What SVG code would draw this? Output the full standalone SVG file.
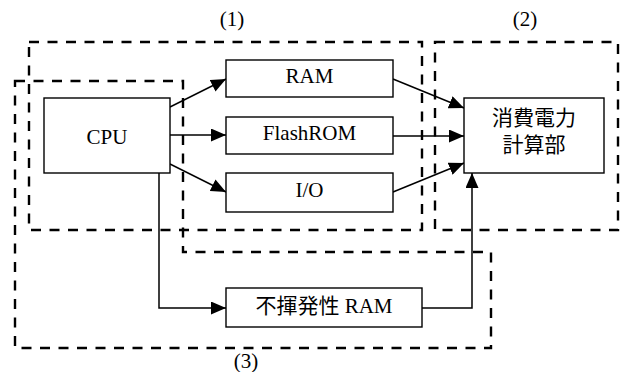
<svg xmlns="http://www.w3.org/2000/svg" width="624" height="372" viewBox="0 0 624 372">
  <style>
    .box { fill: #fff; stroke: #000; stroke-width: 1.4; }
    .zone { fill: none; stroke: #000; stroke-width: 2.4; stroke-dasharray: 10 8.5; }
    .wire { fill: none; stroke: #000; stroke-width: 1.5; }
    text { font-family: "Liberation Serif", "Noto Sans CJK JP", serif; font-size: 21px; fill: #000; text-anchor: middle; }
  </style>
  <defs>
    <marker id="arrow" viewBox="0 0 15 13" refX="15" refY="6.5" markerWidth="15" markerHeight="13" markerUnits="userSpaceOnUse" orient="auto">
      <path d="M0,0 L15,6.5 L0,13 Z" fill="#000"/>
    </marker>
  </defs>

  <rect width="624" height="372" fill="#fff"/>

  <!-- dashed grouping zones -->
  <g id="zones">
    <rect id="zone-1" class="zone" x="29" y="42" width="393" height="188"/>
    <rect id="zone-2" class="zone" x="435" y="42" width="183" height="188"/>
    <path id="zone-3" class="zone" d="M15,81 H183 V252 H491 V348 H15 Z"/>
  </g>

  <!-- connectors -->
  <g id="connectors">
    <line class="wire" x1="170" y1="107" x2="226" y2="79" marker-end="url(#arrow)"/>
    <line class="wire" x1="170" y1="135" x2="226" y2="135" marker-end="url(#arrow)"/>
    <line class="wire" x1="170" y1="164" x2="226" y2="192" marker-end="url(#arrow)"/>
    <line class="wire" x1="393" y1="79" x2="464" y2="108" marker-end="url(#arrow)"/>
    <line class="wire" x1="393" y1="136" x2="464" y2="136" marker-end="url(#arrow)"/>
    <line class="wire" x1="393" y1="192" x2="464" y2="163" marker-end="url(#arrow)"/>
    <path class="wire" d="M159,173 V308 H226" marker-end="url(#arrow)"/>
    <path class="wire" d="M422,308 H472 V173" marker-end="url(#arrow)"/>
  </g>

  <g id="cpu">
    <rect class="box" x="44" y="98" width="126" height="75"/>
    <text x="107" y="144">CPU</text>
  </g>
  <g id="ram">
    <rect class="box" x="226" y="60" width="167" height="37"/>
    <text x="309.5" y="83">RAM</text>
  </g>
  <g id="flashrom">
    <rect class="box" x="226" y="117" width="167" height="37"/>
    <text x="309.5" y="140">FlashROM</text>
  </g>
  <g id="io">
    <rect class="box" x="226" y="173" width="167" height="39"/>
    <text x="309.5" y="197">I/O</text>
  </g>
  <g id="power-calc">
    <rect class="box" x="464" y="98" width="140" height="75"/>
    <text x="534" y="125">消費電力</text>
    <text x="534" y="152">計算部</text>
  </g>
  <g id="nvram">
    <rect class="box" x="226" y="288" width="196" height="39"/>
    <text x="324" y="313">不揮発性 RAM</text>
  </g>

  <!-- zone labels -->
  <g id="labels">
    <text x="232" y="26">(1)</text>
    <text x="525" y="26">(2)</text>
    <text x="246" y="368">(3)</text>
  </g>
</svg>
